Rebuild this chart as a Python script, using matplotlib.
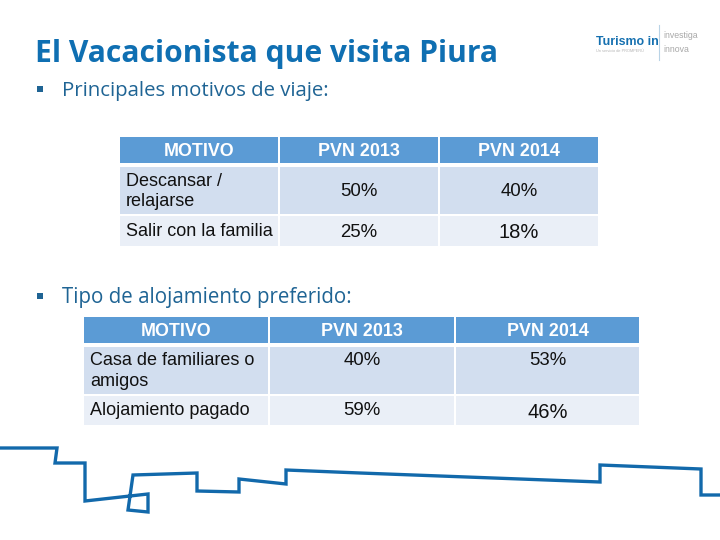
#!/usr/bin/env python3
# -*- coding: utf-8 -*-
import matplotlib
matplotlib.use('Agg')
import matplotlib.pyplot as plt
from matplotlib.patches import Rectangle

# datos de las tablas
headers = ['MOTIVO', 'PVN 2013', 'PVN 2014']
motivos = ['Descansar /\nrelajarse', 'Salir con la familia']
motivos_2013 = ['50%', '25%']
motivos_2014 = ['40%', '18%']
alojamiento = ['Casa de familiares o\namigos', 'Alojamiento pagado']
alojamiento_2013 = ['40%', '59%']
alojamiento_2014 = ['53%', '46%']

# linea de la silueta, en pixeles de la imagen
skyline_x = [0, 57, 55, 85, 85, 148, 148, 128, 133, 197, 197, 239, 239, 286, 286,
             360, 600, 600, 701, 701, 720]
skyline_y = [448, 448, 463, 463, 501, 494, 512, 510, 475, 473, 491, 492, 479, 484, 470,
             473, 482, 465, 469, 495, 495]

BLUE = '#0F6FB2'
SUB = '#1F6494'
HEAD = '#5B9BD5'
ROW1 = '#D2DEEF'
ROW2 = '#EAEFF7'
TXT = '#111111'
FONT = ['Liberation Sans', 'DejaVu Sans']
TITLE_FONT = ['Open Sans', 'DejaVu Sans']

fig = plt.figure(figsize=(7.2, 5.4), dpi=100, facecolor='white')
ax = fig.add_axes([0, 0, 1, 1])
ax.set_xlim(0, 720)
ax.set_ylim(540, 0)
ax.axis('off')


def draw_table(col_edges, row_edges, rows, col1, col2, text_y, val_y, big):
    # cabecera
    for c, name in enumerate(headers):
        x0, x1 = col_edges[c]
        y0, y1 = row_edges[0]
        ax.add_patch(Rectangle((x0, y0), x1 - x0, y1 - y0, fc=HEAD, ec='none'))
        ax.text((x0 + x1) / 2, (y0 + y1) / 2 + 1, name, color='white', fontsize=12.9,
                fontweight='bold', ha='center', va='center', family=FONT)
    # filas
    for r in range(len(rows)):
        y0, y1 = row_edges[r + 1]
        fc = ROW1 if r == 0 else ROW2
        for x0, x1 in col_edges:
            ax.add_patch(Rectangle((x0, y0), x1 - x0, y1 - y0, fc=fc, ec='none'))
        ax.text(col_edges[0][0] + 6, text_y[r], rows[r], color=TXT, fontsize=12.95,
                ha='left', va='center', family=FONT, linespacing=1.3)
        for c, vals in zip((1, 2), (col1, col2)):
            x0, x1 = col_edges[c]
            size = 14.5 if (r == 1 and c == 2) else 13.4
            yy = val_y[r] + (big if size > 14 else 0)
            ax.text((x0 + x1) / 2, yy, vals[r], color=TXT, fontsize=size,
                    ha='center', va='center', family=FONT)


# titulo y subtitulos
ax.text(35, 54, 'El Vacacionista que visita Piura', color=BLUE, fontsize=21.6,
        fontweight='bold', ha='left', va='center', family=TITLE_FONT)
ax.text(62, 91, 'Principales motivos de viaje:', color=SUB, fontsize=14.7,
        ha='left', va='center', family=TITLE_FONT)
ax.text(62, 298, 'Tipo de alojamiento preferido:', color=SUB, fontsize=14.8,
        ha='left', va='center', family=TITLE_FONT)
for by in (88.5, 295.5):
    ax.add_patch(Rectangle((37, by - 3), 6, 6, fc=SUB, ec='none'))

draw_table([(120, 278), (280, 438), (440, 598)],
           [(137, 163), (167, 214), (216, 246)],
           motivos, motivos_2013, motivos_2014,
           [191.5, 232], [191.5, 232.5], 0.5)
draw_table([(84, 268), (270, 454), (456, 639)],
           [(317, 343), (347, 394), (396, 425)],
           alojamiento, alojamiento_2013, alojamiento_2014,
           [371, 410.5], [360.5, 410.5], 1.5)

# logo
ax.text(596, 42, 'Turismo in', color='#1570B0', fontsize=8.9, fontweight='bold',
        ha='left', va='center', family=FONT)
ax.text(596, 51, 'Un servicio de PROMPERÚ', color='#B5B5B5', fontsize=2.8,
        ha='left', va='center', family=FONT)
ax.plot([659, 659], [25, 60], color='#B9D3E6', lw=0.8)
ax.text(663, 36, 'investiga', color='#A8A8A8', fontsize=6.3, ha='left', va='center', family=FONT)
ax.text(663, 49, 'innova', color='#A8A8A8', fontsize=6.3, ha='left', va='center', family=FONT)

# silueta inferior
ax.plot(skyline_x, skyline_y, color='#1269AB', lw=2.4, solid_joinstyle='miter', solid_capstyle='butt')

fig.savefig('out.png', dpi=100, facecolor='white')
